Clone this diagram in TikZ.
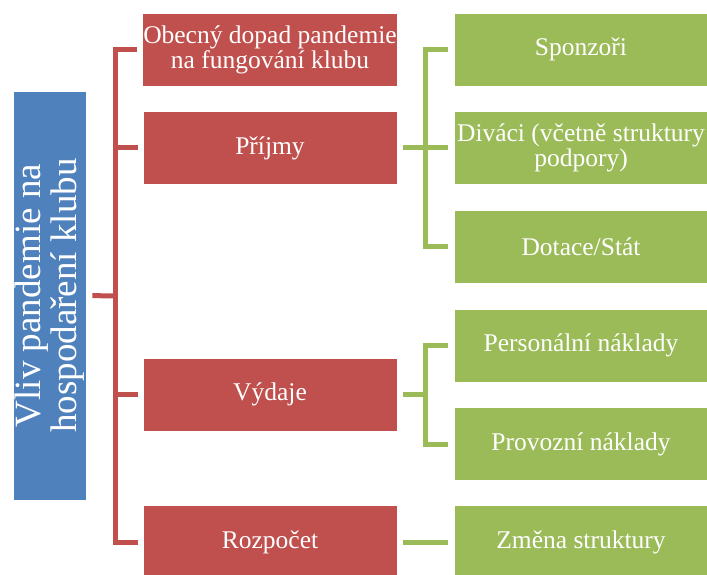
\documentclass[tikz,border=0pt]{standalone}
\usepackage{fontspec}
\setmainfont{Liberation Serif}
\definecolor{boxred}{HTML}{C0504D}
\definecolor{boxgreen}{HTML}{9BBB59}
\definecolor{boxblue}{HTML}{4F81BD}

\begin{document}
\begin{tikzpicture}[x=1pt,y=-1pt,
  box/.style={rectangle,draw=white,line width=0.6pt,text=white,align=center,inner sep=1pt,
    minimum width=254pt,minimum height=73pt,font=\fontsize{25.5}{25}\selectfont},
  redbox/.style={box,fill=boxred},
  greenbox/.style={box,fill=boxgreen},
  redline/.style={draw=boxred,line width=5pt},
  greenline/.style={draw=boxgreen,line width=5pt}]
\useasboundingbox (0,0) rectangle (707,575);
\node [rectangle,draw=white,line width=0.6pt,fill=boxblue,text=white,align=center,inner sep=0pt,
  minimum width=409pt,minimum height=73pt,rotate=90,font=\fontsize{37}{36}\selectfont]
  (vliv) at (49.5,295.5) {Vliv pandemie na\\hospodaření klubu};
\node [redbox] (obecny) at (270,49.5) {Obecný dopad pandemie\\na fungování klubu};
\node [redbox] (prijmy) at (270,148) {Příjmy};
\node [redbox] (vydaje) at (270,394.5) {Výdaje};
\node [redbox] (rozpocet) at (270,542) {Rozpočet};
\node [greenbox] (sponzori) at (581,49.5) {Sponzoři};
\node [greenbox] (divaci) at (581,148) {Diváci (včetně struktury\\podpory)};
\node [greenbox] (dotace) at (581,246.5) {Dotace/Stát};
\node [greenbox] (personalni) at (581,345.5) {Personální náklady};
\node [greenbox] (provozni) at (581,444) {Provozní náklady};
\node [greenbox] (zmena) at (581,542) {Změna struktury};

\coordinate (rj) at (115,296);
\coordinate (gj1) at (425,148);
\coordinate (gj2) at (425,394.5);

\draw [redline,shorten <=5pt,shorten >=5pt] (obecny.west) -| (rj) |- (rozpocet.west);
\draw [redline,shorten <=6pt] (vliv.south) -- (rj);
\draw [redline,shorten <=5pt] (prijmy.west) -- (rj |- prijmy.west);
\draw [redline,shorten <=5pt] (vydaje.west) -- (rj |- vydaje.west);

\draw [greenline,shorten <=6pt,shorten >=6pt] (sponzori.west) -| (gj1) |- (dotace.west);
\draw [greenline,shorten <=6pt,shorten >=6pt] (prijmy.east) -- (divaci.west);
\draw [greenline,shorten <=6pt,shorten >=6pt] (personalni.west) -| (gj2) |- (provozni.west);
\draw [greenline,shorten <=6pt] (vydaje.east) -- (gj2);
\draw [greenline,shorten <=6pt,shorten >=6pt] (rozpocet.east) -- (zmena.west);
\end{tikzpicture}
\end{document}
